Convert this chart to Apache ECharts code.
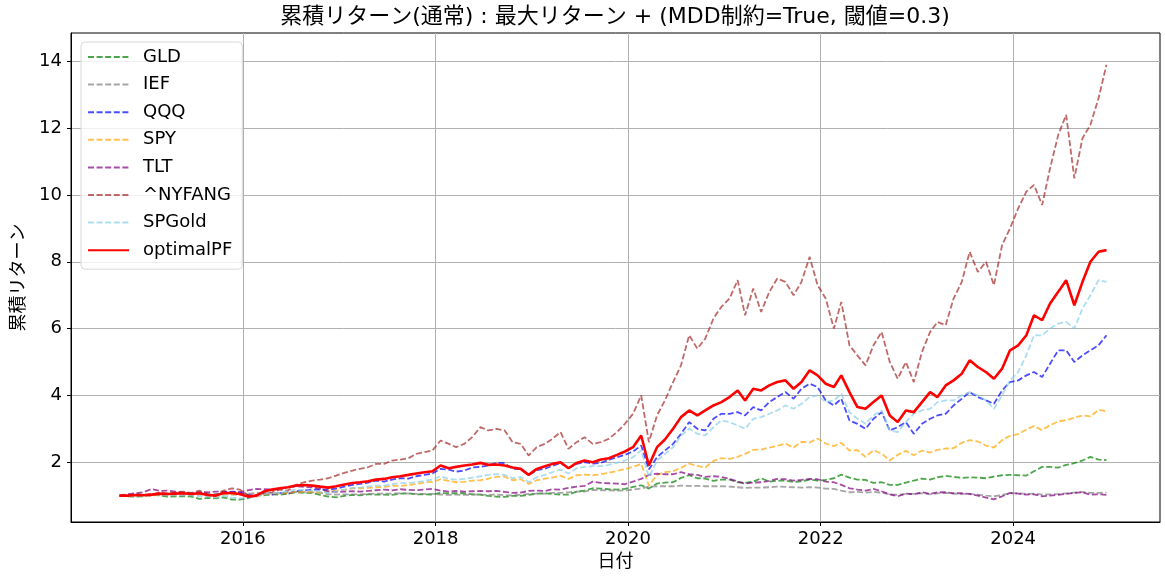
<!DOCTYPE html>
<html>
<head>
<meta charset="utf-8">
<script src="https://cdn.jsdelivr.net/npm/echarts@6/dist/echarts.min.js"></script>
<style>
  html, body { margin: 0; padding: 0; background: #fff; }
  #chart { width: 1165px; height: 581px; }
</style>
</head>
<body>
<div id="chart"></div>
<script>
// monthly readings (around the 20th), Sep 2014 .. Dec 2024
const startYear = 2014
const startMonth = 8

const GLD = [
  1.00, 0.98, 0.97, 0.98,
  1.05, 1.00, 0.97, 0.98, 0.98, 0.97, 0.90, 0.93, 0.92, 0.95, 0.88, 0.88,
  0.92, 1.01, 1.01, 1.04, 1.03, 1.06, 1.10, 1.08, 1.08, 1.02, 0.97, 0.95,
  0.99, 1.02, 1.01, 1.04, 1.03, 1.03, 1.02, 1.06, 1.07, 1.04, 1.04, 1.03,
  1.08, 1.07, 1.07, 1.07, 1.04, 1.03, 0.99, 0.97, 0.96, 0.99, 0.99, 1.02,
  1.06, 1.07, 1.05, 1.03, 1.03, 1.12, 1.15, 1.22, 1.21, 1.19, 1.18, 1.20,
  1.26, 1.31, 1.21, 1.36, 1.39, 1.40, 1.53, 1.61, 1.52, 1.51, 1.44, 1.48,
  1.48, 1.40, 1.38, 1.42, 1.52, 1.42, 1.45, 1.45, 1.41, 1.43, 1.48, 1.45,
  1.47, 1.52, 1.63, 1.54, 1.48, 1.47, 1.38, 1.40, 1.32, 1.32, 1.39, 1.45,
  1.51, 1.48, 1.55, 1.59, 1.56, 1.53, 1.55, 1.54, 1.52, 1.57, 1.61, 1.62,
  1.61, 1.60, 1.73, 1.86, 1.86, 1.84, 1.92, 1.97, 2.05, 2.16, 2.08, 2.06
]
const IEF = [
  1.00, 1.01, 1.02, 1.02,
  1.05, 1.03, 1.04, 1.04, 1.03, 1.02, 1.03, 1.04, 1.05, 1.05, 1.03, 1.03,
  1.06, 1.08, 1.07, 1.07, 1.07, 1.10, 1.11, 1.10, 1.10, 1.08, 1.04, 1.03,
  1.04, 1.04, 1.04, 1.05, 1.06, 1.06, 1.06, 1.07, 1.06, 1.05, 1.05, 1.05,
  1.03, 1.02, 1.03, 1.02, 1.03, 1.03, 1.02, 1.03, 1.01, 1.01, 1.02, 1.05,
  1.06, 1.06, 1.08, 1.08, 1.10, 1.12, 1.12, 1.17, 1.16, 1.16, 1.15, 1.15,
  1.18, 1.21, 1.27, 1.28, 1.28, 1.28, 1.30, 1.29, 1.29, 1.28, 1.28, 1.28,
  1.27, 1.25, 1.23, 1.24, 1.24, 1.25, 1.27, 1.26, 1.25, 1.24, 1.25, 1.24,
  1.21, 1.20, 1.15, 1.10, 1.11, 1.09, 1.11, 1.09, 1.04, 1.02, 1.05, 1.05,
  1.07, 1.04, 1.07, 1.08, 1.06, 1.05, 1.05, 1.03, 1.00, 0.98, 1.02, 1.07,
  1.07, 1.05, 1.06, 1.03, 1.04, 1.05, 1.07, 1.09, 1.11, 1.08, 1.08, 1.09
]
const QQQ = [
  1.00, 1.00, 1.04, 1.02,
  1.00, 1.06, 1.04, 1.06, 1.08, 1.06, 1.10, 1.03, 1.00, 1.10, 1.12, 1.10,
  1.02, 0.99, 1.06, 1.03, 1.08, 1.05, 1.13, 1.15, 1.18, 1.18, 1.18, 1.21,
  1.27, 1.32, 1.35, 1.39, 1.45, 1.42, 1.48, 1.52, 1.51, 1.58, 1.62, 1.66,
  1.80, 1.78, 1.72, 1.75, 1.84, 1.86, 1.90, 1.98, 1.97, 1.80, 1.79, 1.62,
  1.76, 1.81, 1.89, 1.98, 1.82, 1.95, 2.00, 1.96, 1.98, 2.07, 2.15, 2.22,
  2.32, 2.50, 1.78, 2.15, 2.35, 2.55, 2.85, 3.20, 3.00, 2.95, 3.30, 3.45,
  3.45, 3.50, 3.40, 3.65, 3.55, 3.80, 3.95, 4.10, 3.90, 4.20, 4.35, 4.25,
  3.85, 3.70, 3.90, 3.25, 3.15, 3.00, 3.30, 3.50, 2.95, 3.05, 3.20, 2.85,
  3.15, 3.30, 3.40, 3.45, 3.70, 3.90, 4.10, 3.95, 3.85, 3.75, 4.15, 4.40,
  4.45, 4.60, 4.70, 4.55, 4.95, 5.35, 5.35, 5.00, 5.20, 5.35, 5.50, 5.80
]
const SPY = [
  1.00, 1.00, 1.02, 1.01,
  0.99, 1.04, 1.03, 1.04, 1.05, 1.03, 1.05, 0.99, 0.96, 1.04, 1.05, 1.03,
  0.98, 0.97, 1.04, 1.05, 1.07, 1.07, 1.11, 1.11, 1.11, 1.09, 1.13, 1.15,
  1.17, 1.22, 1.22, 1.23, 1.25, 1.26, 1.29, 1.29, 1.32, 1.35, 1.39, 1.41,
  1.49, 1.44, 1.40, 1.41, 1.45, 1.46, 1.51, 1.56, 1.57, 1.46, 1.49, 1.35,
  1.46, 1.51, 1.54, 1.60, 1.50, 1.61, 1.63, 1.61, 1.64, 1.68, 1.74, 1.79,
  1.86, 1.95, 1.30, 1.62, 1.70, 1.73, 1.83, 1.96, 1.89, 1.84, 2.04, 2.12,
  2.10, 2.16, 2.25, 2.37, 2.38, 2.44, 2.49, 2.56, 2.44, 2.61, 2.59, 2.71,
  2.56, 2.48, 2.58, 2.35, 2.36, 2.16, 2.36, 2.26, 2.05, 2.22, 2.34, 2.21,
  2.35, 2.29, 2.37, 2.41, 2.42, 2.58, 2.66, 2.62, 2.50, 2.44, 2.66, 2.79,
  2.84, 2.98, 3.08, 2.96, 3.11, 3.22, 3.26, 3.33, 3.40, 3.37, 3.57, 3.52
]
const TLT = [
  1.00, 1.04, 1.07, 1.10,
  1.20, 1.14, 1.15, 1.12, 1.10, 1.06, 1.10, 1.10, 1.12, 1.12, 1.10, 1.10,
  1.16, 1.20, 1.19, 1.18, 1.19, 1.26, 1.28, 1.26, 1.25, 1.20, 1.12, 1.11,
  1.12, 1.13, 1.12, 1.14, 1.16, 1.18, 1.16, 1.19, 1.17, 1.16, 1.18, 1.20,
  1.15, 1.12, 1.14, 1.12, 1.13, 1.14, 1.13, 1.14, 1.11, 1.08, 1.09, 1.14,
  1.15, 1.14, 1.19, 1.18, 1.23, 1.27, 1.29, 1.42, 1.38, 1.37, 1.36, 1.34,
  1.42, 1.50, 1.62, 1.66, 1.64, 1.64, 1.70, 1.64, 1.62, 1.56, 1.58, 1.56,
  1.50, 1.42, 1.36, 1.39, 1.40, 1.44, 1.50, 1.49, 1.45, 1.47, 1.50, 1.49,
  1.42, 1.40, 1.32, 1.22, 1.18, 1.15, 1.20, 1.13, 1.04, 0.98, 1.06, 1.04,
  1.10, 1.05, 1.10, 1.10, 1.07, 1.07, 1.05, 1.00, 0.94, 0.89, 0.98, 1.08,
  1.06, 1.03, 1.04, 0.98, 1.00, 1.02, 1.05, 1.08, 1.10, 1.03, 1.04, 1.02
]
const NYFANG = [
  1.00, 1.00, 1.04, 1.02,
  1.03, 1.10, 1.07, 1.10, 1.12, 1.08, 1.15, 1.05, 1.02, 1.15, 1.22, 1.18,
  1.02, 0.98, 1.08, 1.10, 1.18, 1.15, 1.32, 1.40, 1.45, 1.48, 1.52, 1.60,
  1.68, 1.75, 1.80, 1.85, 1.95, 1.95, 2.05, 2.08, 2.12, 2.25, 2.30, 2.35,
  2.65, 2.55, 2.45, 2.55, 2.75, 3.05, 2.95, 3.00, 2.95, 2.60, 2.55, 2.20,
  2.45, 2.55, 2.70, 2.90, 2.40, 2.60, 2.75, 2.55, 2.60, 2.70, 2.90, 3.15,
  3.45, 4.00, 2.60, 3.40, 3.85, 4.40, 4.90, 5.80, 5.40, 5.70, 6.30, 6.65,
  6.90, 7.45, 6.40, 7.20, 6.50, 7.10, 7.50, 7.40, 7.00, 7.40, 8.15, 7.30,
  6.90, 6.00, 6.80, 5.50, 5.20, 4.90, 5.50, 5.90, 5.00, 4.50, 5.00, 4.40,
  5.30, 5.90, 6.20, 6.10, 6.90, 7.40, 8.30, 7.70, 8.00, 7.30, 8.50, 9.00,
  9.60, 10.10, 10.30, 9.70, 10.80, 11.80, 12.40, 10.50, 11.70, 12.10, 12.90, 13.90
]
const SPGold = [
  1.00, 1.00, 1.00, 0.99,
  1.02, 1.04, 1.02, 1.03, 1.04, 1.01, 0.98, 0.97, 0.94, 1.00, 0.94, 0.92,
  0.93, 0.98, 1.05, 1.08, 1.08, 1.14, 1.18, 1.16, 1.15, 1.12, 1.08, 1.12,
  1.18, 1.23, 1.24, 1.27, 1.30, 1.30, 1.34, 1.38, 1.37, 1.41, 1.44, 1.48,
  1.58, 1.50, 1.48, 1.50, 1.54, 1.58, 1.62, 1.64, 1.62, 1.52, 1.56, 1.40,
  1.55, 1.62, 1.70, 1.78, 1.66, 1.82, 1.86, 1.88, 1.88, 1.92, 1.98, 2.05,
  2.15, 2.36, 1.56, 2.05, 2.25, 2.45, 2.80, 3.00, 2.85, 2.80, 3.05, 3.25,
  3.20, 3.10, 3.00, 3.30, 3.35, 3.45, 3.55, 3.70, 3.60, 3.75, 3.95, 4.00,
  3.80, 3.85, 4.05, 3.50, 3.30, 3.15, 3.40, 3.55, 2.95, 2.90, 3.20, 3.45,
  3.55, 3.60, 3.80, 3.85, 3.85, 4.00, 4.10, 4.00, 3.85, 3.60, 4.00, 4.45,
  4.70, 5.20, 5.80, 5.80, 6.00, 6.15, 6.20, 6.00, 6.60, 7.00, 7.45, 7.40
]
const optimalPF = [
  1.00, 1.00, 1.02, 1.01,
  1.03, 1.06, 1.05, 1.06, 1.07, 1.05, 1.07, 1.02, 1.00, 1.08, 1.08, 1.05,
  0.97, 1.00, 1.12, 1.18, 1.22, 1.25, 1.30, 1.32, 1.30, 1.27, 1.24, 1.28,
  1.33, 1.38, 1.40, 1.43, 1.48, 1.50, 1.55, 1.58, 1.62, 1.66, 1.70, 1.73,
  1.90, 1.82, 1.86, 1.90, 1.93, 1.98, 1.92, 1.93, 1.90, 1.84, 1.80, 1.62,
  1.80, 1.88, 1.95, 2.00, 1.82, 1.98, 2.05, 2.00, 2.08, 2.12, 2.22, 2.32,
  2.45, 2.80, 1.90, 2.45, 2.68, 3.00, 3.35, 3.55, 3.40, 3.55, 3.70, 3.80,
  3.95, 4.15, 3.85, 4.20, 4.15, 4.30, 4.40, 4.45, 4.20, 4.40, 4.75, 4.60,
  4.35, 4.25, 4.60, 4.10, 3.65, 3.60, 3.80, 4.00, 3.40, 3.20, 3.55, 3.50,
  3.80, 4.10, 3.95, 4.30, 4.45, 4.65, 5.05, 4.85, 4.70, 4.50, 4.80, 5.35,
  5.50, 5.80, 6.40, 6.25, 6.75, 7.10, 7.45, 6.70, 7.40, 8.00, 8.30, 8.35
]

const yTicks = [2, 4, 6, 8, 10, 12, 14]
const xTickYears = [2016, 2018, 2020, 2022, 2024]

const names = ['GLD', 'IEF', 'QQQ', 'SPY', 'TLT', '^NYFANG', 'SPGold', 'optimalPF']
const seriesValues = [GLD, IEF, QQQ, SPY, TLT, NYFANG, SPGold, optimalPF]
const colorList = ['#008000', '#808080', '#0000ff', '#ffa500', '#800080', '#a52a2a', '#87ceeb', '#ff0000']

const dates = GLD.map((v, i) => new Date(startYear, startMonth + i, 20).getTime())
const xTicks = xTickYears.map(y => new Date(y, 0, 1).getTime())
const font = '"DejaVu Sans", "Noto Sans CJK JP", sans-serif'

const chart = echarts.init(document.getElementById('chart'))
chart.setOption({
  animation: false,
  textStyle: { fontFamily: font },
  graphic: [{
    type: 'text',
    x: 615, y: 17,
    style: {
      text: '累積リターン(通常) : 最大リターン + (MDD制約=True, 閾値=0.3)',
      align: 'center', verticalAlign: 'middle',
      fontSize: 22, fontFamily: font, fill: '#000'
    }
  }],
  grid: {
    left: 71, right: 5, top: 33, bottom: 59,
    show: true, borderColor: '#000', borderWidth: 1
  },
  legend: {
    orient: 'vertical', left: 81, top: 42,
    itemWidth: 41, itemHeight: 12, itemGap: 9.6,
    padding: [6, 10, 10, 6],
    borderColor: '#d8d8d8', borderWidth: 1, borderRadius: 4,
    backgroundColor: 'rgba(255,255,255,0.8)',
    itemStyle: { opacity: 0 },
    textStyle: { fontSize: 18, color: '#000', padding: [0, 0, 0, 9], fontFamily: font },
    data: names
  },
  xAxis: {
    type: 'value',
    min: new Date(2014, 2, 20).getTime(),
    max: new Date(2025, 6, 11).getTime(),
    name: '日付', nameLocation: 'middle', nameGap: 31,
    nameTextStyle: { fontSize: 18, color: '#000', fontFamily: font },
    axisLine: { show: true, lineStyle: { color: '#000' } },
    axisTick: { show: true, inside: false, length: 4, lineStyle: { color: '#000' }, customValues: xTicks },
    axisLabel: {
      fontSize: 18, color: '#000', margin: 8, fontFamily: font,
      customValues: xTicks,
      formatter: value => String(new Date(value).getFullYear())
    },
    splitLine: { show: true, lineStyle: { color: '#b0b0b0', width: 1 } }
  },
  yAxis: {
    type: 'value',
    min: 0.21, max: 14.85,
    name: '累積リターン', nameLocation: 'middle', nameGap: 42,
    nameTextStyle: { fontSize: 18, color: '#000', fontFamily: font },
    axisLine: { show: true, lineStyle: { color: '#000' } },
    axisTick: { show: true, length: 4, lineStyle: { color: '#000' }, customValues: yTicks },
    axisLabel: { fontSize: 18, color: '#000', margin: 9, fontFamily: font, customValues: yTicks },
    splitLine: { show: true, lineStyle: { color: '#b0b0b0', width: 1 } }
  },
  series: names.map((name, idx) => {
    const isPF = name === 'optimalPF'
    return {
      name: name,
      type: 'line',
      symbol: 'none',
      z: isPF ? 5 : 2,
      color: colorList[idx],
      lineStyle: isPF
        ? { color: colorList[idx], width: 2.6, type: 'solid' }
        : { color: colorList[idx], width: 1.8, type: [6, 2.6], opacity: 0.7 },
      data: dates.map((d, i) => [d, seriesValues[idx][i]])
    }
  })
})
</script>
</body>
</html>
